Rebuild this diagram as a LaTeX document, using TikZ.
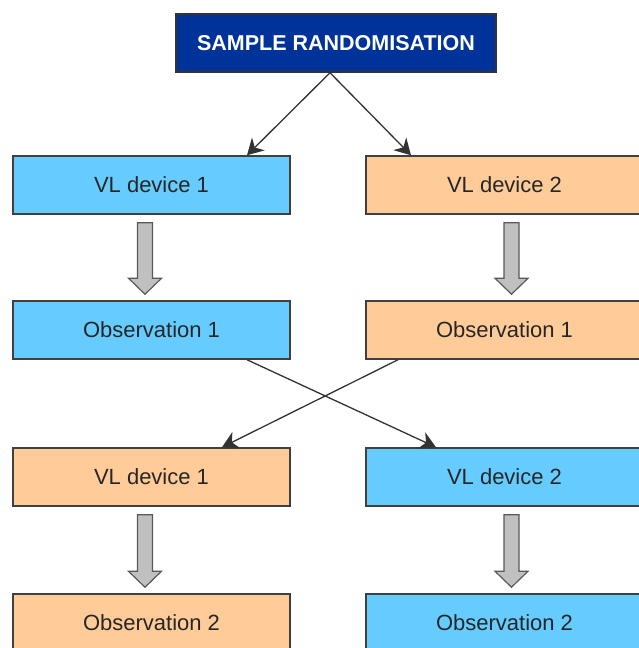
\documentclass[tikz,border=0pt]{standalone}
\usepackage{fontspec}
\setmainfont{Liberation Sans}
\usetikzlibrary{calc}
\usetikzlibrary{arrows.meta}

\definecolor{navy}{HTML}{003399}
\definecolor{devblue}{HTML}{66CCFF}
\definecolor{devorange}{HTML}{FFCC99}
\definecolor{edgegrey}{HTML}{404040}
\definecolor{fatgrey}{HTML}{C0C0C0}

% grey block arrow between two boxes, shifted sideways by #3
\newcommand{\fatarrow}[3]{%
  \coordinate (fa-s) at ($(#1.south)+(#3,-8)$);
  \coordinate (fa-e) at ($(#2.north)+(#3,6)$);
  \draw[fat arrow] ($(fa-s)+(-7.5,0)$) -- ($(fa-s)+(7.5,0)$) -- ($(fa-e)+(7.5,16)$)
    -- ($(fa-e)+(16.5,16)$) -- (fa-e) -- ($(fa-e)+(-16.5,16)$) -- ($(fa-e)+(-7.5,16)$) -- cycle;}

\begin{document}
\begin{tikzpicture}[x=1pt,y=1pt,
    box/.style={draw=edgegrey, line width=1.5pt, minimum width=277pt, minimum height=58pt,
      inner sep=0pt, text=black!85, font=\fontsize{22}{26}\selectfont},
    blue box/.style={box, fill=devblue},
    orange box/.style={box, fill=devorange},
    head box/.style={box, fill=navy, draw=black!80, minimum width=320pt, text=white,
      font=\fontsize{21.5}{26}\selectfont\bfseries},
    thin arrow/.style={-{Stealth[length=16pt,width=18pt,inset=5pt]}, draw=black!80, line width=1.3pt},
    fat arrow/.style={fill=fatgrey, draw=black!65, line width=1.2pt, line join=miter}]
  \useasboundingbox (0,0) rectangle (638,648);

  \node[head box] (rand) at (336,605) {SAMPLE RANDOMISATION};

  \node[blue box] (a1) at (151.5,463) {VL device 1};
  \node[orange box] (b1) at (504.5,463) {VL device 2};
  \node[blue box] (a2) at (151.5,318) {Observation 1};
  \node[orange box] (b2) at (504.5,318) {Observation 1};
  \node[orange box] (a3) at (151.5,171) {VL device 1};
  \node[blue box] (b3) at (504.5,171) {VL device 2};
  \node[orange box] (a4) at (151.5,25) {Observation 2};
  \node[blue box] (b4) at (504.5,25) {Observation 2};

  \draw[thin arrow] ([xshift=-6pt]rand.south) -- ([xshift=95.5pt]a1.north);
  \draw[thin arrow] ([xshift=-6pt]rand.south) -- ([xshift=-93.5pt]b1.north);
  \draw[thin arrow] ([xshift=95.5pt]a2.south) -- ([xshift=-68.5pt]b3.north);
  \draw[thin arrow] ([xshift=-106.5pt]b2.south) -- ([xshift=70.5pt]a3.north);

  \fatarrow{a1}{a2}{-6.5}
  \fatarrow{b1}{b2}{7}
  \fatarrow{a3}{a4}{-6.5}
  \fatarrow{b3}{b4}{7}
\end{tikzpicture}
\end{document}
